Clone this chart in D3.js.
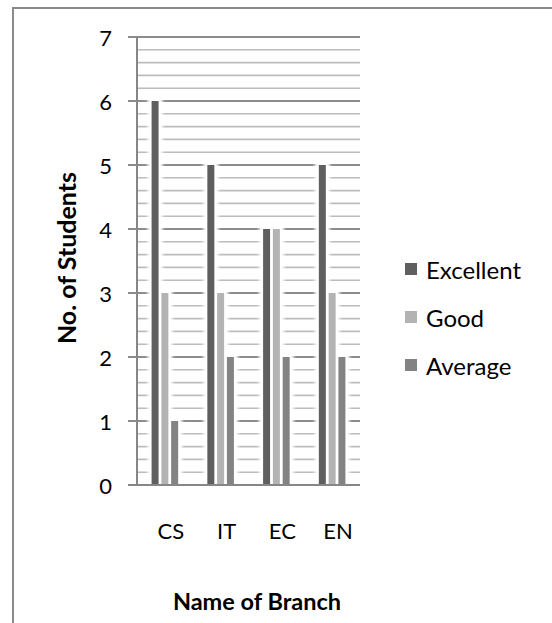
<!DOCTYPE html>
<html>
<head>
<meta charset="utf-8">
<script src="https://cdn.jsdelivr.net/npm/d3@7"></script>
<style>
  html, body { margin: 0; padding: 0; background: #fff; }
  svg { display: block; }
  text { font-family: Lato, "Open Sans", "Liberation Sans", sans-serif; fill: #000; }
</style>
</head>
<body>
<svg id="chart" width="552" height="623"></svg>
<script>
// Students per branch, by performance grade
const branches = ["CS", "IT", "EC", "EN"];
const grades = ["Excellent", "Good", "Average"];
const excellent = [6, 5, 4, 5];
const good = [3, 3, 4, 3];
const average = [1, 2, 2, 2];
const yTicks = [0, 1, 2, 3, 4, 5, 6, 7];
const gradeColors = ["#5f5f5f", "#b3b3b3", "#838383"];

const seriesValues = [excellent, good, average];

const svg = d3.select("#chart");
const W = 552, H = 623;

// outer chart frame (runs off the right and bottom edges)
svg.append("rect")
  .attr("x", 13).attr("y", 8)
  .attr("width", W + 20).attr("height", H + 20)
  .attr("fill", "#fff").attr("stroke", "#8a8a8a").attr("stroke-width", 2);

const plot = { left: 137, right: 360, top: 37, bottom: 485 };

const y = d3.scaleLinear().domain([0, 7]).range([plot.bottom, plot.top]);
const x0 = d3.scaleBand().domain(branches).range([plot.left, plot.right]).padding(0);
const x1 = d3.scaleBand().domain(grades).range([0, x0.bandwidth()])
  .paddingInner(0.286).paddingOuter(1.49);

// glow used to clear gridlines around each bar
const defs = svg.append("defs");
const glow = defs.append("filter").attr("id", "glow")
  .attr("x", "-100%").attr("y", "-20%").attr("width", "300%").attr("height", "140%");
glow.append("feGaussianBlur").attr("stdDeviation", 1.8);

// minor gridlines every 0.2
const minor = d3.range(0, 35).map(i => i / 5).filter(v => Math.abs(v - Math.round(v)) > 1e-6);
svg.append("g").selectAll("line").data(minor).join("line")
  .attr("x1", plot.left).attr("x2", plot.right)
  .attr("y1", d => y(d)).attr("y2", d => y(d))
  .attr("stroke", "#bcbcbc").attr("stroke-width", 1.6);

// major gridlines with their ticks left of the axis
svg.append("g").selectAll("line").data(yTicks).join("line")
  .attr("x1", plot.left - 9).attr("x2", plot.right)
  .attr("y1", d => y(d)).attr("y2", d => y(d))
  .attr("stroke", "#8c8c8c").attr("stroke-width", 1.8);

// flattened bar records
const bars = [];
branches.forEach((b, i) => {
  grades.forEach((g, j) => {
    bars.push({ branch: b, grade: g, value: seriesValues[j][i], color: gradeColors[j] });
  });
});

const barG = svg.append("g");
// white halo behind bars
barG.selectAll("rect.halo").data(bars).join("rect")
  .attr("class", "halo")
  .attr("x", d => x0(d.branch) + x1(d.grade) - 4)
  .attr("y", d => y(d.value) - 3)
  .attr("width", x1.bandwidth() + 8)
  .attr("height", d => plot.bottom - y(d.value) + 3)
  .attr("fill", "#fff")
  .attr("filter", "url(#glow)");
barG.selectAll("rect.halo2").data(bars).join("rect")
  .attr("class", "halo2")
  .attr("x", d => x0(d.branch) + x1(d.grade) - 1.5)
  .attr("y", d => y(d.value) - 1)
  .attr("width", x1.bandwidth() + 3)
  .attr("height", d => plot.bottom - y(d.value) + 1)
  .attr("fill", "#fff");
barG.selectAll("rect.bar").data(bars).join("rect")
  .attr("class", "bar")
  .attr("x", d => x0(d.branch) + x1(d.grade))
  .attr("y", d => y(d.value))
  .attr("width", x1.bandwidth())
  .attr("height", d => plot.bottom - y(d.value))
  .attr("fill", d => d.color);

// axis lines
svg.append("line")
  .attr("x1", plot.left).attr("x2", plot.left)
  .attr("y1", plot.top).attr("y2", plot.bottom)
  .attr("stroke", "#868686").attr("stroke-width", 2);
svg.append("line")
  .attr("x1", plot.left - 9).attr("x2", plot.right)
  .attr("y1", plot.bottom).attr("y2", plot.bottom)
  .attr("stroke", "#868686").attr("stroke-width", 2);

// y tick labels
svg.append("g").selectAll("text").data(yTicks).join("text")
  .attr("x", 112).attr("y", d => y(d))
  .attr("text-anchor", "end").attr("dominant-baseline", "central")
  .style("font-size", "22px")
  .text(d => d);

// category labels
svg.append("g").selectAll("text").data(branches).join("text")
  .attr("x", d => x0(d) + x0.bandwidth() / 2 + 6)
  .attr("y", 530)
  .attr("text-anchor", "middle").attr("dominant-baseline", "central")
  .style("font-size", "22px")
  .text(d => d);

// axis titles
svg.append("text")
  .attr("transform", "translate(66,258) rotate(-90)")
  .attr("text-anchor", "middle").attr("dominant-baseline", "central")
  .style("font-size", "25px").style("font-weight", "bold")
  .text("No. of Students");
svg.append("text")
  .attr("x", 257).attr("y", 601)
  .attr("text-anchor", "middle").attr("dominant-baseline", "central")
  .style("font-size", "23.5px").style("font-weight", "bold")
  .text("Name of Branch");

// legend
const legend = svg.append("g").selectAll("g").data(grades).join("g")
  .attr("transform", (d, i) => `translate(405, ${269 + i * 48})`);
legend.append("rect")
  .attr("x", 0).attr("y", -6).attr("width", 12).attr("height", 12)
  .attr("fill", (d, i) => gradeColors[i]);
legend.append("text")
  .attr("x", 21).attr("y", 0)
  .attr("dominant-baseline", "central")
  .style("font-size", "24px")
  .text(d => d);
</script>
</body>
</html>
